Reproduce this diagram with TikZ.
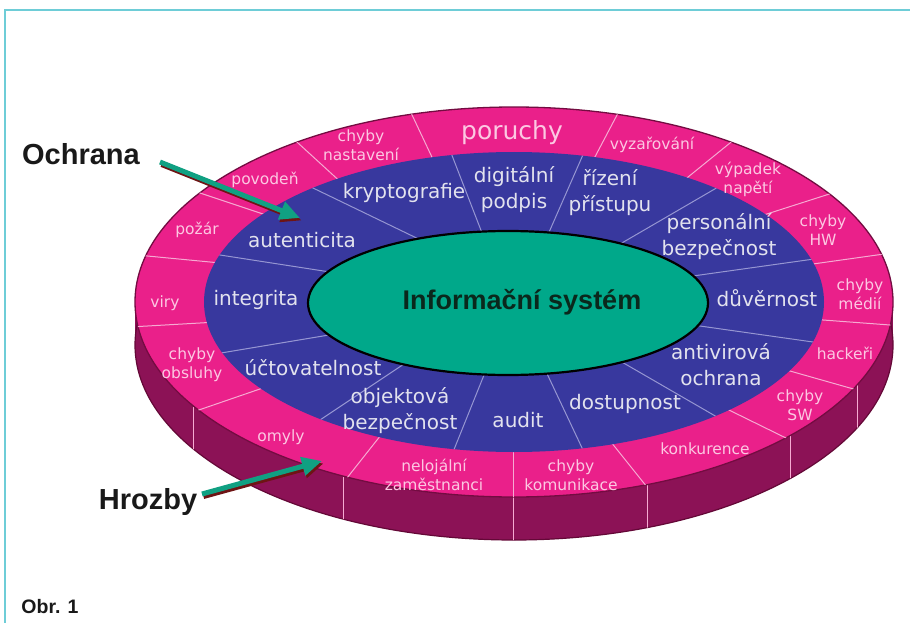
\documentclass[tikz,border=0pt]{standalone}
\usepackage{fontspec}
\setmainfont{Liberation Sans}
\newfontfamily\ringfont{DejaVu Sans}
\usetikzlibrary{arrows.meta,calc}
\definecolor{pinktop}{RGB}{234,32,138}
\definecolor{sidecol}{RGB}{140,18,86}
\definecolor{sideedge}{RGB}{100,8,55}
\definecolor{edgecol}{RGB}{115,12,65}
\definecolor{ringblue}{RGB}{56,56,158}
\definecolor{coregreen}{RGB}{0,168,138}
\definecolor{outtext}{RGB}{252,200,226}
\definecolor{intext}{RGB}{226,226,238}
\definecolor{pinkline}{RGB}{246,170,210}
\definecolor{blueline}{RGB}{150,150,210}
\definecolor{arrowteal}{RGB}{16,160,130}
\definecolor{shadowred}{RGB}{110,20,20}
\definecolor{framecyan}{RGB}{110,205,215}
\definecolor{labeltext}{RGB}{25,25,25}
\definecolor{coretext}{RGB}{10,40,28}
\begin{document}
\begin{tikzpicture}[x=1pt,y=-1pt,
  outertxt/.style={text=outtext,align=center,inner sep=0pt,font=\ringfont\fontsize{15.5}{19}\selectfont},
  innertxt/.style={text=intext,align=center,inner sep=0pt,font=\ringfont\fontsize{20}{26}\selectfont},
  pinkdiv/.style={draw=pinkline,line width=1pt},
  bluediv/.style={draw=blueline,line width=1pt},
  pointer/.style={line width=5pt,draw=arrowteal,-{Triangle[length=20pt,width=18pt]},fill=arrowteal},
  pointershadow/.style={line width=5pt,draw=shadowred,-{Triangle[length=20pt,width=18pt]},fill=shadowred},
  biglabel/.style={font=\bfseries\fontsize{29}{34}\selectfont,text=labeltext,inner sep=0pt}
]
\useasboundingbox (0,0) rectangle (910,623);
\fill[white] (0,0) rectangle (910,623);
% frame
\draw[framecyan,line width=2pt] (4.5,623) -- (4.5,10.5) -- (910,10.5);

% side of the disc
\fill[sidecol] (514,345) ellipse [x radius=379, y radius=195];
\fill[sidecol] (135,302) rectangle (893,345);
\draw[sideedge,line width=1.2pt] (514,345) ellipse [x radius=379, y radius=195];
\begin{scope}
  \clip (514,345) ellipse [x radius=379, y radius=195];
  \foreach \xx in {193,343,513,647,790,857}
    \draw[pinkdiv] (\xx,300) -- (\xx,600);
\end{scope}

% top surface (threats ring)
\fill[pinktop] (514,302) ellipse [x radius=379, y radius=195];
\draw[edgecol,line width=1.3pt] (514,302) ellipse [x radius=379, y radius=195];
\begin{scope}
  \clip (514,302) ellipse [x radius=379, y radius=195];
  \foreach \ax/\ay/\bx/\by in {430/153/413/117, 597/153/617/115, 693/173/730/143,
      770/213/820/197, 820/263/877/255, 823/320/890/325, 797/373/857/390,
      733/412/790/440, 615/447/647/487, 513/455/513/495, 377/440/343/483,
      257/390/193/412, 200/323/130/327, 210/262/137/255, 260/213/200/193,
      333/175/298/143}
    \draw[pinkdiv] ($(\bx,\by)!1.5!(\ax,\ay)$) -- ($(\ax,\ay)!1.5!(\bx,\by)$);
\end{scope}

% protection ring
\fill[ringblue] (514,302) ellipse [x radius=310, y radius=150];
\begin{scope}
  \clip (514,302) ellipse [x radius=310, y radius=150];
  \foreach \ax/\ay/\bx/\by in {400/230/313/188, 477/220/453/158, 550/230/582/157,
      627/240/713/190, 700/275/807/260, 707/327/813/342, 627/365/717/417,
      550/380/583/450, 482/380/453/452, 380/380/320/420, 317/337/227/352,
      317/270/220/255}
    \draw[bluediv] ($(\bx,\by)!1.6!(\ax,\ay)$) -- ($(\ax,\ay)!1.5!(\bx,\by)$);
\end{scope}

% core
\draw[black,line width=2.2pt,fill=coregreen] (508,303) ellipse [x radius=200, y radius=72];
\node[font=\bfseries\fontsize{27}{30}\selectfont,text=coretext,inner sep=0pt] (core) at (522,302) {Informační systém};

% outer ring texts (threats)
\node[outertxt,font=\ringfont\fontsize{25}{28}\selectfont] (t01) at (512,133) {poruchy};
\node[outertxt] (t02) at (652,145) {vyzařování};
\node[outertxt] (t03) at (748,179) {výpadek\\napětí};
\node[outertxt] (t04) at (823,230) {chyby\\HW};
\node[outertxt] (t05) at (860,294) {chyby\\médií};
\node[outertxt] (t06) at (845,353) {hackeři};
\node[outertxt] (t07) at (800,405) {chyby\\SW};
\node[outertxt] (t08) at (705,449) {konkurence};
\node[outertxt] (t09) at (571,475) {chyby\\komunikace};
\node[outertxt] (t10) at (434,475) {nelojální\\zaměstnanci};
\node[outertxt] (t11) at (281,437) {omyly};
\node[outertxt] (t12) at (192,365) {chyby\\obsluhy};
\node[outertxt] (t13) at (165,303) {viry};
\node[outertxt] (t14) at (197,230) {požár};
\node[outertxt] (t15) at (265,180) {povodeň};
\node[outertxt] (t16) at (361,145) {chyby\\nastavení};

% inner ring texts (protection)
\node[innertxt] (p01) at (404,193) {kryptografie};
\node[innertxt] (p02) at (514,190) {digitální\\podpis};
\node[innertxt] (p03) at (610,193) {řízení\\přístupu};
\node[innertxt] (p04) at (719,237) {personální\\bezpečnost};
\node[innertxt] (p05) at (767,298) {důvěrnost};
\node[innertxt] (p06) at (721,365) {antivirová\\ochrana};
\node[innertxt] (p07) at (625,404) {dostupnost};
\node[innertxt] (p08) at (518,420) {audit};
\node[innertxt] (p09) at (400,411) {objektová\\bezpečnost};
\node[innertxt] (p10) at (313,368) {účtovatelnost};
\node[innertxt] (p11) at (256,300) {integrita};
\node[innertxt] (p12) at (302,240) {autenticita};

% labels and pointers
\node[biglabel] (och) at (81,154) {Ochrana};
\node[biglabel] (hro) at (148,502) {Hrozby};
\node[font=\bfseries\fontsize{19.5}{22}\selectfont,text=labeltext,inner sep=0pt] (obr) at (50,607) {Obr. 1};

\coordinate (ochS) at (160,162);
\coordinate (ochE) at (300,218);
\coordinate (hroS) at (202,494);
\coordinate (hroE) at (322,461);
\draw[pointershadow] ($(ochS)+(1.5,2.5)$) -- ($(ochE)+(1.5,2.5)$);
\draw[pointer] (ochS) -- (ochE);
\draw[pointershadow] ($(hroS)+(1.5,2.5)$) -- ($(hroE)+(1.5,2.5)$);
\draw[pointer] (hroS) -- (hroE);
\end{tikzpicture}
\end{document}
